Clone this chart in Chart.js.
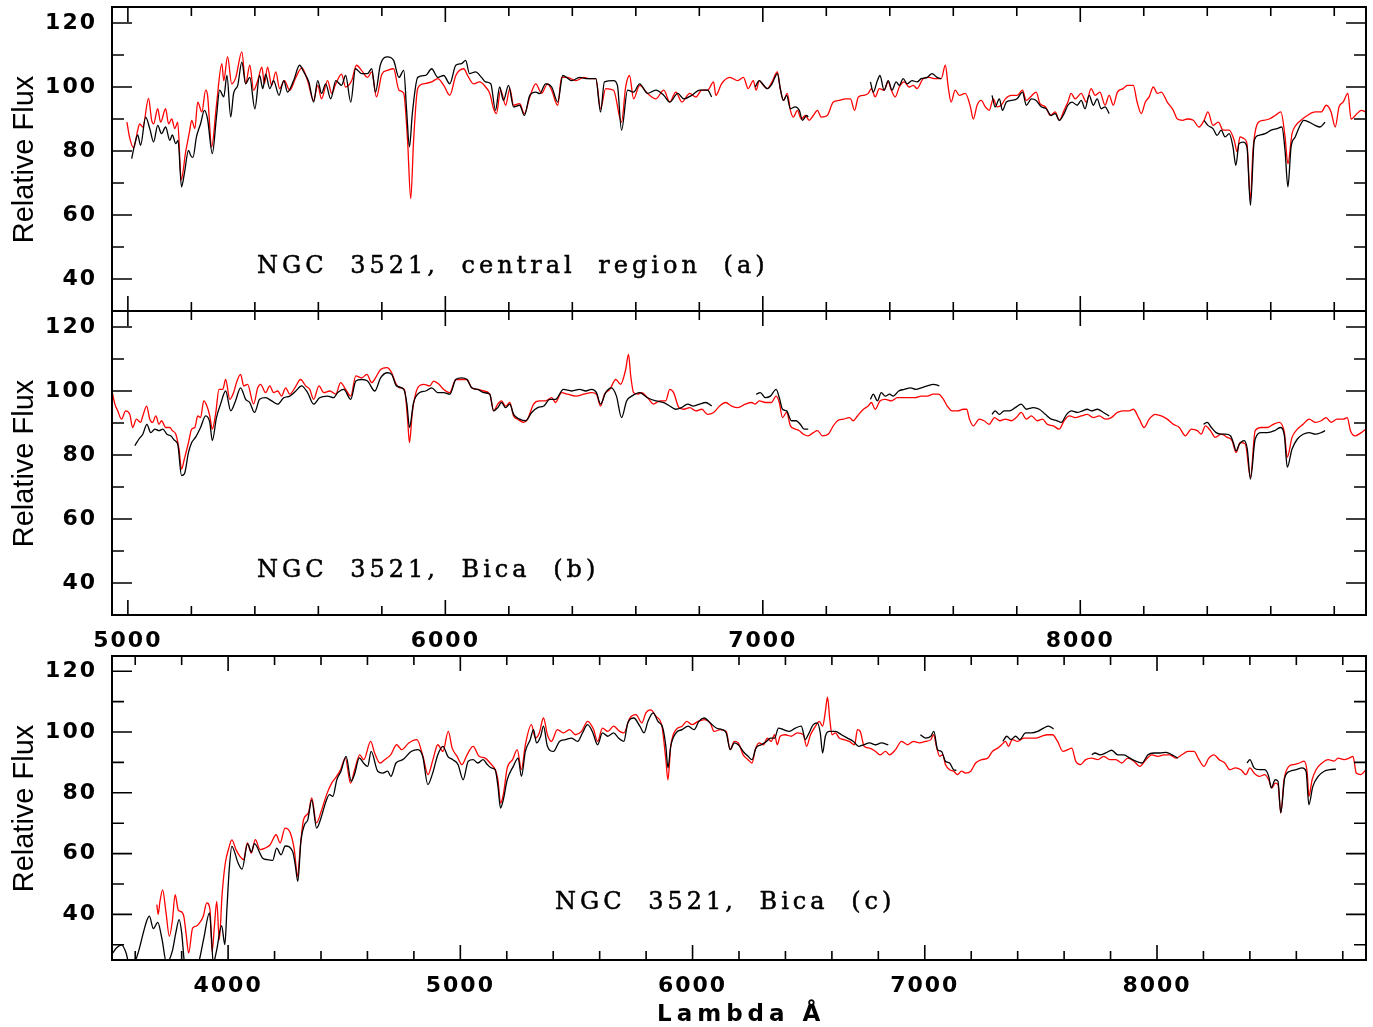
<!DOCTYPE html>
<html>
<head>
<meta charset="utf-8">
<script src="https://cdn.jsdelivr.net/npm/chart.js@4.4.0/dist/chart.umd.min.js"></script>
<style>
  body { margin: 0; background: #fff; width: 1373px; height: 1027px; position: relative; overflow: hidden; }
  canvas { position: absolute; left: 0; }
  .note { position: absolute; font-family: "DejaVu Serif"; font-size: 24px; line-height: 24px; letter-spacing: 4px; word-spacing: 11px; white-space: pre; color: #000; -webkit-text-stroke: 0.5px #000; }
  .ytitle { position: absolute; width: 240px; height: 29px; line-height: 29px; text-align: center; font-family: "Liberation Sans"; font-size: 29px; color: #000; transform: rotate(-90deg); white-space: nowrap; }
  .xtitle { position: absolute; font-family: "DejaVu Sans"; font-weight: bold; font-size: 23px; line-height: 23px; letter-spacing: 5px; white-space: pre; color: #000; }
</style>
</head>
<body>
<canvas id="panelA" width="1373" height="320" style="top:0px"></canvas>
<canvas id="panelB" width="1373" height="360" style="top:300px"></canvas>
<canvas id="panelC" width="1373" height="387" style="top:640px"></canvas>

<div class="ytitle" style="left:-97px; top:145px">Relative Flux</div>
<div class="ytitle" style="left:-97px; top:449px">Relative Flux</div>
<div class="ytitle" style="left:-97px; top:794px">Relative Flux</div>
<div class="note" style="left:257px; top:253px">NGC 3521, central region (a)</div>
<div class="note" style="left:257px; top:557px">NGC 3521, Bica (b)</div>
<div class="note" style="left:555px; top:889px">NGC 3521, Bica (c)</div>
<div class="xtitle" style="left:657px; top:1002px">Lambda Å</div>

<script>
// tick labels
const yTicksAB = [40, 60, 80, 100, 120];
const yTicksC = [40, 60, 80, 100, 120];
const xTicksAB = [5000, 6000, 7000, 8000];
const xTicksC = [4000, 5000, 6000, 7000, 8000];

// [wavelength, relative flux]; null breaks the line
const aRed = [[4997,89],[5006,84],[5018,81],[5031,86.5],[5037,88.5],[5047,87.5],[5065,96.4],[5075,89.6],[5081,88.5],[5094,93.2],[5103,89],[5119,93.2],[5128,88.5],[5138,90],[5148,87],[5157,89],[5168,71],[5182,79.7],[5195,86.5],[5201,89.6],[5211,87],[5220,95.3],[5233,92.2],[5245,99],[5251,97.4],[5264,81.3],[5279,94.3],[5296,107.3],[5302,102],[5314,109.5],[5327,101],[5340,103],[5359,111],[5371,101],[5384,106.8],[5396,99],[5409,102],[5422,106.2],[5430,101],[5440,106.2],[5453,100.5],[5466,104.7],[5478,99.5],[5493,102],[5510,99],[5529,103],[5548,106],[5566,102],[5585,95.8],[5598,100.5],[5610,96.3],[5629,102],[5642,98],[5655,101],[5673,104],[5686,100],[5705,102],[5720,106.8],[5736,105.2],[5755,103],[5768,104.7],[5783,96.9],[5800,104],[5818,105.2],[5837,105.7],[5854,99],[5869,98],[5881,83.3],[5891,65.1],[5900,83.3],[5913,99.5],[5932,101],[5957,101.6],[5976,102.6],[5995,100.5],[6014,97.4],[6033,103.6],[6058,105.7],[6070,103.6],[6089,101],[6108,101.6],[6127,100],[6140,98],[6152,93.2],[6161,91.7],[6174,99],[6190,94.3],[6203,99.5],[6215,94.3],[6234,94.8],[6249,91.7],[6266,96.9],[6285,101],[6303,98],[6322,101],[6335,99],[6354,94.3],[6366,103],[6385,103],[6411,102],[6436,103],[6455,102.6],[6474,102.6],[6489,93.2],[6505,99.5],[6530,99],[6555,89],[6568,100],[6580,103.6],[6593,96.3],[6612,100.5],[6637,98],[6663,96.3],[6688,99],[6707,95.3],[6726,98.4],[6745,95.3],[6770,98],[6789,96.9],[6808,99],[6826,99],[6845,101.6],[6852,97.4],[6870,101],[6896,103],[6921,102],[6939,103],[6954,99.5],[6970,102],[6979,99],[6989,102],[7002,100.5],[7014,99.5],[7029,101.6],[7046,104.7],[7054,100],[7065,95.8],[7077,98],[7087,92.7],[7096,90.6],[7109,92.7],[7121,90],[7134,91.1],[7146,89.6],[7159,91.1],[7172,92.7],[7184,90.6],[7203,91.1],[7222,95.3],[7241,95.8],[7260,96.3],[7276,96.3],[7289,92.7],[7301,96.9],[7319,97.4],[7332,98],[7342,99.5],[7354,96.9],[7367,99.5],[7382,99],[7395,101.6],[7405,99],[7417,96.9],[7430,100],[7445,101.6],[7461,100],[7474,100.5],[7486,99.5],[7505,102.6],[7524,103],[7543,102.6],[7562,102.6],[7575,106.8],[7584,100],[7593,95.3],[7606,99],[7619,97.4],[7638,98],[7654,93.8],[7663,90],[7675,94.3],[7688,95.8],[7701,93.8],[7713,92.7],[7726,96.3],[7738,93.8],[7751,94.3],[7764,96.3],[7783,97.4],[7801,97.4],[7818,99],[7830,95.8],[7843,96.9],[7861,98.4],[7873,94.8],[7890,93.8],[7906,91.1],[7921,92.2],[7934,89.6],[7949,92.7],[7961,95.3],[7971,98],[7984,96.3],[8003,98],[8019,95.3],[8034,99.5],[8047,97.4],[8062,98.4],[8078,94.3],[8091,97.4],[8104,94.3],[8117,98.4],[8135,99.5],[8148,100.5],[8167,100.5],[8179,95.3],[8192,91.7],[8205,95.3],[8217,96.9],[8230,100],[8243,98],[8255,98.4],[8274,95.3],[8293,92.7],[8306,90],[8322,89.6],[8337,90],[8356,89.6],[8374,87.5],[8390,89.6],[8402,92.2],[8418,88],[8435,89],[8450,86.5],[8469,86.5],[8485,83.3],[8494,79.7],[8503,84.4],[8515,83.9],[8525,82.3],[8536,64.6],[8544,80.2],[8561,89],[8578,89.6],[8595,90],[8614,91.1],[8632,92.2],[8645,84.4],[8654,76],[8667,85.4],[8679,88],[8695,89.6],[8715,91.1],[8740,92.2],[8759,92.2],[8775,94.3],[8790,92.2],[8803,87.5],[8815,93.8],[8828,95.3],[8843,98],[8853,90],[8872,91.7],[8885,92.7],[8900,92.2]];

const aBlack = [[5012,77.6],[5022,82.3],[5031,85],[5040,81.8],[5056,90.6],[5069,87],[5081,82.8],[5094,88],[5106,85.4],[5119,87.5],[5132,83.3],[5140,85],[5151,82.3],[5158,83.3],[5169,68.8],[5178,73],[5191,80.2],[5198,78.6],[5205,78],[5216,84.4],[5229,88.5],[5241,92.7],[5251,90],[5266,79.2],[5279,90.6],[5289,99],[5302,96.9],[5312,103.6],[5324,90.6],[5333,98],[5346,100.5],[5359,107.8],[5371,101],[5384,103],[5400,93.2],[5415,103.6],[5425,99.5],[5434,104],[5447,99.5],[5459,102],[5476,97.4],[5491,102],[5503,98.4],[5522,102],[5541,106.8],[5554,104.7],[5570,101.6],[5585,95.3],[5598,102],[5610,98],[5623,101],[5639,96.3],[5655,102],[5673,100.5],[5686,103.6],[5702,95.3],[5717,105.7],[5736,104.2],[5755,104.2],[5768,105.7],[5780,98.4],[5795,106.8],[5818,109.4],[5837,108.3],[5854,103],[5869,105.2],[5878,92.7],[5887,81.3],[5896,91.7],[5913,103],[5938,103.6],[5957,105.7],[5976,103],[5995,103.6],[6014,101],[6033,106.8],[6051,107.3],[6064,108.3],[6076,104.2],[6095,104.7],[6114,103],[6127,101.6],[6143,101],[6158,92.7],[6171,100],[6183,95.8],[6199,100.5],[6215,93.8],[6234,94.3],[6249,91.1],[6266,97.4],[6285,98.4],[6297,97.9],[6316,101],[6335,100],[6354,95.3],[6370,103.6],[6398,102],[6423,103],[6448,102.6],[6474,102.6],[6489,92.2],[6501,101.6],[6530,102],[6542,100.5],[6555,86.5],[6574,99],[6593,98.4],[6612,101],[6637,98],[6663,99],[6688,97.4],[6707,95.3],[6732,98],[6751,96.3],[6776,97.4],[6801,99],[6826,99],[6839,96.9],[6900,null],
  [6976,100],[6989,102],[6999,101],[7014,99.5],[7029,101],[7046,104.2],[7056,99],[7065,95.8],[7075,97.4],[7087,93.2],[7102,93.8],[7115,92.7],[7125,89.6],[7138,91.1],[7143,90.6],[7240,null],
  [7339,101.6],[7348,98.4],[7361,102],[7369,103.6],[7382,99],[7395,102],[7407,99],[7420,101.6],[7430,100.5],[7442,102.6],[7455,101],[7470,102],[7486,101.6],[7499,102.6],[7518,103],[7533,104.2],[7549,103],[7562,102.6],[7640,null],
  [7722,97.4],[7732,93.8],[7745,96.3],[7755,92.7],[7767,95.3],[7783,95.8],[7801,96.3],[7818,98.4],[7830,94.3],[7846,96.3],[7861,95.8],[7877,93.8],[7893,93.2],[7908,91.1],[7921,91.7],[7934,89.6],[7949,91.7],[7961,94.3],[7974,95.3],[7990,94.3],[8003,95.8],[8015,93.2],[8028,97.4],[8041,94.3],[8053,96.3],[8066,93.2],[8078,93.8],[8091,91.7],[8250,null],
  [8390,89.6],[8402,88],[8418,87],[8431,84.9],[8444,86.5],[8456,84.4],[8469,85.4],[8481,81.3],[8490,75.5],[8500,82.3],[8513,82.8],[8525,81.3],[8536,63],[8548,83.3],[8563,84.9],[8582,85.4],[8601,86.5],[8620,87],[8635,87.5],[8645,80.2],[8654,68.8],[8664,81.3],[8677,84.4],[8690,87.5],[8704,89.6],[8721,89],[8740,88],[8755,87.5],[8771,89]];

const bRed = [[4950,100],[4959,95.9],[4968,93.8],[4980,91.2],[4993,93.8],[5006,92.7],[5015,88.6],[5027,91.2],[5040,90.2],[5047,92.2],[5059,95.3],[5069,91.2],[5078,90.2],[5088,92.2],[5098,89.6],[5106,90.7],[5119,88.6],[5132,88.6],[5140,87.6],[5151,86.5],[5161,81.9],[5169,75.6],[5178,78.8],[5191,83.9],[5201,88.1],[5211,88.6],[5220,92.2],[5229,91.7],[5239,96.9],[5249,95.3],[5258,92.2],[5266,88.1],[5277,93.3],[5287,100.5],[5299,100.5],[5308,103.6],[5321,97.4],[5333,99.5],[5342,102.6],[5355,105.2],[5365,101.6],[5377,102.1],[5396,95.9],[5409,101],[5418,102.1],[5434,99.5],[5447,101.6],[5459,99.5],[5472,100],[5484,98.4],[5497,101],[5510,99],[5526,101],[5544,103.6],[5560,101.6],[5573,100.5],[5585,97.4],[5602,101.6],[5617,99.5],[5636,100],[5655,99],[5670,102.6],[5686,100.5],[5702,98.4],[5718,104.7],[5736,104.1],[5753,105.2],[5768,102.6],[5780,104.1],[5796,106.7],[5816,107.3],[5831,105.7],[5843,102.6],[5856,101],[5871,100.5],[5881,91.2],[5887,83.9],[5896,93.3],[5913,101],[5932,102.1],[5951,101.6],[5963,103.1],[5980,102.1],[5995,100.5],[6014,99.5],[6033,103.6],[6051,103.6],[6068,103.6],[6083,101],[6102,100.5],[6121,100],[6140,99],[6152,93.8],[6165,95.9],[6177,96.9],[6190,95.3],[6203,96.4],[6215,92.2],[6228,91.2],[6247,90.2],[6259,91.2],[6278,95.9],[6297,96.9],[6316,96.9],[6335,97.9],[6347,96.4],[6366,99.5],[6385,99],[6411,98.4],[6436,99],[6461,99.5],[6476,99],[6489,95.3],[6501,99],[6518,100.5],[6537,103.6],[6552,102.1],[6568,106.7],[6577,111.4],[6584,104.7],[6593,99.5],[6606,99],[6618,99.5],[6637,97.9],[6656,95.9],[6675,96.9],[6694,96.9],[6707,100.5],[6719,99.5],[6736,94.8],[6751,94.3],[6770,94.8],[6789,93.8],[6808,94.3],[6826,92.7],[6845,93.3],[6864,95.3],[6883,96.4],[6902,95.3],[6921,94.8],[6945,95.9],[6964,96.4],[6976,95.9],[6989,96.9],[7008,96.4],[7027,96.4],[7042,98.4],[7052,96.4],[7062,91.7],[7075,93.3],[7087,89.1],[7102,88.1],[7115,87.6],[7128,86.5],[7143,86],[7159,87],[7172,87.6],[7188,86],[7206,86.5],[7222,89.1],[7235,90.7],[7254,91.2],[7273,91.7],[7285,90.7],[7298,92.2],[7317,94.3],[7332,95.3],[7342,96.4],[7354,94.3],[7369,96.9],[7386,97.4],[7405,96.9],[7424,97.9],[7443,97.9],[7461,97.9],[7480,97.9],[7499,98.4],[7518,98.4],[7537,99],[7553,99],[7569,97.4],[7581,95.3],[7596,93.8],[7613,93.8],[7632,94.3],[7642,94.3],[7651,91.2],[7663,89.1],[7682,91.2],[7697,90.7],[7713,89.6],[7730,91.7],[7747,90.7],[7764,91.2],[7783,90.7],[7798,91.7],[7814,93.3],[7830,91.2],[7846,92.2],[7865,90.7],[7881,91.2],[7896,89.6],[7915,89.1],[7934,88.1],[7949,90.7],[7966,92.2],[7984,91.7],[8003,92.2],[8022,92.7],[8041,91.7],[8060,92.2],[8079,91.2],[8098,91.7],[8117,93.3],[8135,93.8],[8154,93.8],[8167,94.3],[8186,91.2],[8201,88.6],[8217,91.2],[8236,92.7],[8255,92.2],[8274,91.2],[8293,89.6],[8312,88.6],[8331,86],[8350,88.1],[8369,87.6],[8381,86.5],[8394,89.1],[8410,87.6],[8425,85.5],[8444,86.5],[8463,85.5],[8478,84.5],[8491,80.8],[8504,83.9],[8520,83.4],[8536,73.1],[8551,87.6],[8570,88.6],[8589,88.6],[8608,89.6],[8627,90.2],[8643,87],[8652,79.3],[8667,85.5],[8684,88.1],[8702,89.6],[8721,91.2],[8740,90.2],[8759,90.7],[8774,91.7],[8790,90.2],[8809,91.2],[8828,91.2],[8841,91.7],[8851,87.6],[8866,86],[8885,87],[8900,88.1]];

const bBlack = [[5022,82.9],[5035,85],[5047,86.5],[5060,89.6],[5072,87],[5085,88.1],[5098,87.6],[5110,88.1],[5123,86.5],[5135,86],[5148,84.5],[5157,83.4],[5169,73.6],[5178,74.1],[5191,80.8],[5201,83.9],[5213,85.5],[5229,88.6],[5245,92.2],[5258,90.2],[5266,84.5],[5279,91.7],[5292,95.9],[5308,100],[5324,93.8],[5339,96.9],[5355,101],[5371,97.4],[5384,96.4],[5399,93.3],[5415,97.4],[5434,97.9],[5453,96.9],[5472,95.9],[5491,97.9],[5510,98.4],[5529,100],[5547,101.6],[5566,99.5],[5585,95.9],[5604,97.9],[5629,98.4],[5648,97.9],[5661,99.5],[5680,100.5],[5702,97.4],[5718,103.1],[5736,103.6],[5755,103.1],[5778,100],[5796,104.1],[5818,105.7],[5831,105.2],[5846,101.6],[5869,100.5],[5879,95.9],[5887,88.6],[5900,96.4],[5919,99.5],[5938,100],[5957,101],[5976,99.5],[5995,99.5],[6014,99],[6033,103.6],[6051,104.1],[6068,103.6],[6083,101],[6102,100.5],[6121,99.5],[6140,99],[6152,93.8],[6165,94.8],[6177,96.4],[6190,94.8],[6203,95.9],[6215,92.7],[6234,91.2],[6253,90.7],[6272,93.3],[6291,94.8],[6310,95.3],[6329,97.4],[6347,97.4],[6372,100.5],[6398,100],[6423,100.5],[6442,100],[6461,100.5],[6476,99.5],[6489,95.9],[6505,99.5],[6523,101],[6539,98.4],[6555,91.7],[6571,96.9],[6587,98.4],[6612,99.5],[6637,97.9],[6663,96.9],[6688,96.4],[6707,95.3],[6725,94.3],[6744,94.8],[6763,95.9],[6782,95.3],[6801,95.9],[6820,96.4],[6839,95.3],[6900,null],
  [6979,99],[6992,99.5],[7008,97.9],[7024,98.4],[7042,100.5],[7052,97.9],[7062,94.3],[7075,93.8],[7090,90.7],[7105,90.7],[7118,89.6],[7130,88.1],[7143,88.1],[7240,null],
  [7339,97.4],[7348,99],[7361,96.9],[7373,99.5],[7386,98.4],[7399,99],[7411,98.4],[7428,100],[7445,100.5],[7465,101],[7483,100.5],[7499,101],[7518,101.6],[7537,102.1],[7556,101.6],[7640,null],
  [7722,92.7],[7732,93.8],[7745,92.7],[7760,93.8],[7777,93.8],[7795,94.8],[7814,95.9],[7830,94.3],[7852,94.8],[7871,94.3],[7890,92.7],[7909,91.2],[7927,90.7],[7940,90.2],[7957,92.7],[7972,93.8],[7991,93.3],[8007,93.8],[8022,94.3],[8035,93.8],[8054,94.3],[8073,93.3],[8091,92.2],[8250,null],
  [8388,89.6],[8400,90.2],[8413,88.6],[8428,87],[8444,86.5],[8457,86.5],[8473,86],[8482,83.9],[8491,81.3],[8501,83.4],[8516,84.5],[8526,81.9],[8536,72.5],[8551,85],[8570,87],[8589,87],[8612,87.6],[8630,88.6],[8643,86],[8652,76.2],[8667,81.9],[8684,85],[8702,86.5],[8721,87],[8740,86.5],[8759,87],[8771,87.6]];

const cRed = [[3693,43.2],[3699,40],[3706,44],[3718,48.1],[3732,41],[3747,32.8],[3760,38],[3772,46.5],[3785,41.5],[3795,41],[3809,39.4],[3820,33],[3830,27.3],[3847,35.5],[3862,36.1],[3876,37.1],[3893,39.4],[3908,43.8],[3922,41.6],[3931,27.8],[3941,36.1],[3951,44.3],[3962,31.7],[3974,46.5],[3988,56.9],[4003,61.8],[4016,64.5],[4034,61.3],[4051,59.1],[4066,58],[4083,63.5],[4100,60.2],[4117,64.6],[4138,61.3],[4159,61.8],[4181,62.9],[4207,66.2],[4224,63.5],[4245,68.4],[4268,66.8],[4285,61.3],[4299,52.5],[4311,62.4],[4325,71.2],[4346,73.4],[4360,78.3],[4380,70.1],[4401,73.9],[4424,79.4],[4446,83.2],[4467,85.4],[4484,87.6],[4505,91.4],[4527,83.2],[4545,87.6],[4567,92.5],[4584,90.9],[4614,96.9],[4631,93.1],[4654,89.8],[4674,90.9],[4700,92.5],[4726,95.8],[4747,94.2],[4778,96.4],[4813,97.5],[4839,92],[4861,86],[4882,90.9],[4903,95.8],[4925,93.6],[4948,100.2],[4965,94.7],[4986,92],[5007,89.3],[5029,92.5],[5055,95.3],[5081,92],[5107,91.4],[5128,89.8],[5150,87.6],[5162,84.3],[5173,76.6],[5185,79.4],[5202,88.2],[5225,90.9],[5245,94.2],[5263,87.6],[5280,95.8],[5306,102.4],[5323,98],[5340,99.7],[5358,104.6],[5375,99.1],[5392,96.9],[5418,100.8],[5444,99.7],[5470,100.8],[5496,99.1],[5522,100.2],[5548,103.5],[5574,100.8],[5591,96.9],[5612,101.3],[5635,100.2],[5660,101.9],[5686,100.2],[5704,99.7],[5730,104.6],[5756,105.7],[5782,103],[5799,106.3],[5820,107.3],[5842,105.2],[5868,101.9],[5885,90.9],[5894,84.3],[5906,95.3],[5929,100.8],[5955,101.9],[5975,103.5],[5998,102.4],[6024,103.5],[6050,104.1],[6076,103],[6093,100.2],[6119,100.8],[6145,100.2],[6162,94.2],[6180,96.9],[6197,96.4],[6218,92.5],[6239,90.9],[6256,89.8],[6270,94.2],[6287,96.4],[6305,95.8],[6322,98],[6339,96.9],[6353,99.1],[6365,95.8],[6377,98.6],[6399,99.1],[6425,98.6],[6451,99.7],[6477,99.1],[6491,95.3],[6508,99.1],[6529,101.9],[6546,103.5],[6560,101.9],[6572,106.8],[6581,111.5],[6591,104.1],[6601,99.1],[6615,99.7],[6632,98],[6653,97.5],[6675,96.9],[6698,95.8],[6710,100.8],[6722,100.2],[6739,95.3],[6762,94.7],[6788,93.6],[6808,92.5],[6831,93.6],[6848,92.5],[6874,94.2],[6900,96.9],[6926,95.8],[6951,96.9],[6977,96.4],[7003,96.9],[7026,97.5],[7038,99.1],[7050,95.3],[7064,92],[7077,92.5],[7089,89.3],[7107,87.6],[7124,87.1],[7141,86],[7158,87.1],[7176,86.5],[7198,87.1],[7219,89.8],[7245,90.9],[7271,91.4],[7291,93.6],[7314,94.7],[7331,95.8],[7348,96.9],[7360,95.3],[7377,97.5],[7400,96.9],[7426,98],[7452,98],[7478,98],[7503,98.6],[7529,99.1],[7550,99.1],[7572,96.9],[7595,93.6],[7616,94.2],[7633,94.7],[7650,90.4],[7671,89.3],[7693,90.9],[7719,91.4],[7745,90.9],[7771,92],[7797,90.9],[7823,90.9],[7848,89.8],[7874,91.4],[7900,90.4],[7926,88.7],[7952,90.9],[7978,92.5],[8004,92],[8030,92.5],[8056,92.5],[8081,91.4],[8107,92.5],[8133,93.6],[8159,93.6],[8181,90.9],[8202,88.7],[8223,91.4],[8245,92.5],[8268,90.9],[8292,89.8],[8314,87.6],[8337,88.2],[8361,87.6],[8383,86],[8400,88.2],[8418,86.5],[8440,85.4],[8464,86],[8481,84.3],[8495,81.6],[8509,83.2],[8521,82.7],[8533,73.4],[8547,84.3],[8568,88.7],[8590,89.3],[8613,89.8],[8633,90.4],[8647,86.5],[8654,78.8],[8668,84.3],[8685,87.6],[8711,89.8],[8737,90.9],[8763,90.4],[8780,91.4],[8806,90.9],[8827,91.4],[8844,92],[8858,86.5],[8878,86],[8900,87.6]];

const cBlack = [[3500,27],[3520,29],[3541,30],[3560,27.5],[3580,22],[3597,24],[3615,28],[3635,34],[3650,38],[3661,39.4],[3678,35.3],[3697,37.4],[3715,32],[3735,24],[3760,28],[3775,34],[3789,38.3],[3800,34],[3812,24],[3840,18],[3873,24],[3895,32],[3920,40.5],[3928,33],[3936,24],[3950,28],[3972,36.3],[3986,30.1],[3995,42],[4005,55],[4016,62.4],[4043,56.9],[4060,54.9],[4084,63.2],[4100,60.5],[4113,63.3],[4149,58.5],[4169,58],[4192,57.8],[4209,61.8],[4228,59.6],[4246,62.5],[4278,60.7],[4290,55.8],[4300,50.9],[4314,64.5],[4329,69.5],[4343,71.1],[4360,77.7],[4381,68.4],[4400,71.7],[4419,76.6],[4436,79.4],[4451,78.8],[4468,84.3],[4486,87.1],[4508,92],[4530,83.8],[4544,86],[4565,91.5],[4583,89.8],[4601,88.7],[4616,93.6],[4644,87.1],[4666,86.5],[4687,87.1],[4701,85.4],[4723,89.8],[4752,90.9],[4788,93.6],[4817,94.2],[4838,92],[4860,82.7],[4881,86.5],[4903,92.5],[4925,95.3],[4946,92],[4968,90.9],[4990,89.3],[5012,84.3],[5034,90.4],[5055,90.9],[5076,89.8],[5098,90.9],[5116,89.3],[5133,88.2],[5150,87.6],[5162,82.1],[5173,75],[5185,77.7],[5202,84.3],[5228,88.7],[5249,91.4],[5263,85.4],[5280,93.6],[5301,97.5],[5315,100.8],[5328,96.4],[5346,98.6],[5358,101.9],[5375,95.3],[5401,93.6],[5427,96.9],[5453,97.5],[5479,98],[5505,96.9],[5526,99.7],[5548,102.4],[5571,99.7],[5591,95.8],[5612,99.7],[5635,98.6],[5660,99.7],[5681,98],[5704,96.9],[5721,103],[5747,104.6],[5773,101.9],[5791,99.7],[5808,103.5],[5830,106.3],[5851,103.5],[5872,101.3],[5885,95.3],[5894,88.2],[5906,95.3],[5929,99.7],[5955,100.8],[5981,101.9],[6007,100.8],[6027,103.5],[6050,104.6],[6076,103],[6102,101.3],[6127,100.8],[6145,99.7],[6162,94.2],[6180,96.4],[6197,95.8],[6218,93.6],[6239,92],[6256,90.9],[6273,94.7],[6296,95.8],[6318,96.9],[6336,98],[6353,98],[6370,101.3],[6391,100.8],[6417,100.2],[6443,101.3],[6468,101.9],[6486,97.5],[6498,99.1],[6520,102.4],[6537,103],[6550,99.7],[6560,93.1],[6572,98.6],[6589,100.2],[6615,100.2],[6641,99.1],[6667,98],[6693,96.9],[6715,95.3],[6736,95.8],[6762,96.4],[6788,95.8],[6813,96.4],[6843,95.8],[6910,null],
  [6981,99.1],[7003,98],[7026,98.6],[7039,100.2],[7055,94.2],[7072,93.6],[7089,90.4],[7107,89.8],[7124,87.6],[7136,87.4],[7240,null],
  [7336,96.9],[7353,98.6],[7371,97.5],[7391,98.6],[7409,97.5],[7434,99.7],[7460,99.7],[7486,100.2],[7512,101.3],[7533,101.9],[7555,101],[7640,null],
  [7719,92.5],[7733,93.1],[7754,92.5],[7779,93.1],[7805,94],[7831,92.5],[7857,92.5],[7883,91.4],[7909,90.4],[7935,89.8],[7961,92.5],[7987,93.1],[8013,93.1],[8039,93.3],[8065,92.5],[8090,91.4],[8250,null],
  [8388,89.8],[8400,90.9],[8418,88.2],[8440,87.6],[8464,87.6],[8481,85.4],[8492,81.6],[8509,84.3],[8521,83.8],[8533,73.4],[8550,84.9],[8573,87.1],[8599,87.6],[8625,88.2],[8642,87.1],[8654,76.1],[8671,82.1],[8694,85.4],[8720,87.1],[8745,87.6],[8771,87.8]];

const toXY = arr => arr.map(p => ({ x: p[0], y: p[1] }));

// box with inward ticks on all four sides, like the original plot
const frameTicks = {
  id: 'frameTicks',
  beforeDraw(chart) {
    chart.ctx.letterSpacing = '2px';
  },
  afterDraw(chart) {
    const { ctx, chartArea: a } = chart;
    const x = chart.scales.x, y = chart.scales.y;
    ctx.save();
    ctx.strokeStyle = '#000';
    ctx.lineWidth = 1.6;
    ctx.beginPath();
    for (let v = Math.ceil(x.min / 200) * 200; v < x.max; v += 200) {
      const px = x.getPixelForValue(v);
      const len = v % 1000 === 0 ? 15 : 9;
      ctx.moveTo(px, a.top); ctx.lineTo(px, a.top + len);
      ctx.moveTo(px, a.bottom); ctx.lineTo(px, a.bottom - len);
    }
    for (let v = Math.ceil(y.min / 10) * 10; v < y.max; v += 10) {
      if (v === y.min) continue;
      const py = y.getPixelForValue(v);
      const len = v % 20 === 0 ? 20 : 12;
      ctx.moveTo(a.left, py); ctx.lineTo(a.left + len, py);
      ctx.moveTo(a.right, py); ctx.lineTo(a.right - len, py);
    }
    ctx.stroke();
    ctx.lineWidth = 2;
    ctx.strokeRect(a.left, a.top, a.width, a.height);
    ctx.restore();
  }
};

const tickFont = { family: 'DejaVu Sans', size: 22, weight: 'bold' };

function panel(id, red, black, xMin, xMax, yMin, yMax, xTicks, yTicks, padTop, xAxisH) {
  const line = { borderWidth: 1.3, pointRadius: 0, spanGaps: false, cubicInterpolationMode: 'monotone' };
  return new Chart(document.getElementById(id), {
    type: 'line',
    data: {
      datasets: [
        { ...line, data: toXY(black), borderColor: '#000000' },
        { ...line, data: toXY(red), borderColor: '#ff0000' }
      ]
    },
    options: {
      responsive: false,
      animation: false,
      layout: { padding: { top: padTop, right: 7, left: 0, bottom: 0 } },
      plugins: { legend: { display: false }, tooltip: { enabled: false } },
      scales: {
        x: {
          type: 'linear', min: xMin, max: xMax,
          grid: { display: false, drawTicks: false },
          border: { display: false },
          ticks: { display: xTicks.length > 0, padding: 13, color: '#000', font: tickFont, maxRotation: 0, callback: v => String(v) },
          afterBuildTicks: s => { s.ticks = xTicks.map(v => ({ value: v })); },
          afterFit: s => { s.height = xAxisH; s.paddingLeft = 0; s.paddingRight = 0; }
        },
        y: {
          min: yMin, max: yMax,
          grid: { display: false, drawTicks: false },
          border: { display: false },
          ticks: { padding: 15, color: '#000', font: tickFont, callback: v => String(v) },
          afterBuildTicks: s => { s.ticks = yTicks.map(v => ({ value: v })); },
          afterFit: s => { s.width = 112; s.paddingTop = 0; s.paddingBottom = 0; }
        }
      }
    },
    plugins: [frameTicks]
  });
}

panel('panelA', aRed, aBlack, 4950, 8900, 30, 125, [], yTicksAB, 7, 9);
panel('panelB', bRed, bBlack, 4950, 8900, 30, 125, xTicksAB, yTicksAB, 11, 45);
panel('panelC', cRed, cBlack, 3500, 8900, 25, 125, xTicksC, yTicksC, 16, 67);
</script>
</body>
</html>
